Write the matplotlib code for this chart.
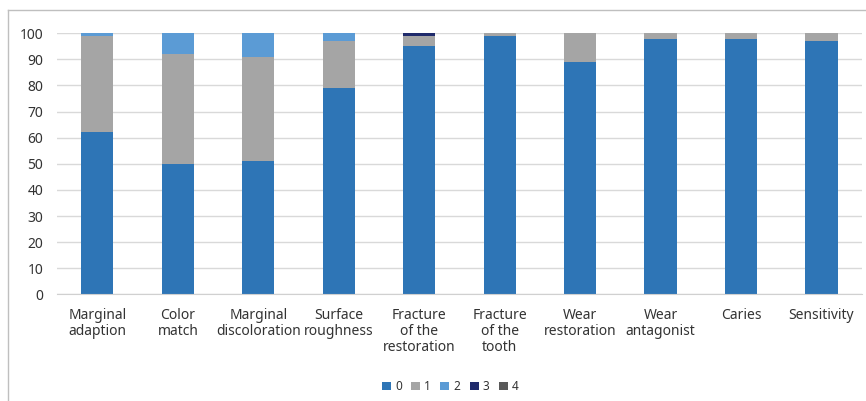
import matplotlib
matplotlib.use('Agg')
import matplotlib.pyplot as plt
from matplotlib.lines import Line2D
import numpy as np

plt.rcParams['font.family'] = ['Noto Sans', 'DejaVu Sans']

categories = ['Marginal\nadaption', 'Color\nmatch', 'Marginal\ndiscoloration',
              'Surface\nroughness', 'Fracture\nof the\nrestoration', 'Fracture\nof the\ntooth',
              'Wear\nrestoration', 'Wear\nantagonist', 'Caries', 'Sensitivity']

score_0 = [62, 50, 51, 79, 95, 99, 89, 98, 98, 97]
score_1 = [37, 42, 40, 18, 4, 1, 11, 2, 2, 3]
score_2 = [1, 8, 9, 3, 0, 0, 0, 0, 0, 0]
score_3 = [0, 0, 0, 0, 1, 0, 0, 0, 0, 0]
score_4 = [0, 0, 0, 0, 0, 0, 0, 0, 0, 0]

series = [('0', score_0, '#2E75B6'),
          ('1', score_1, '#A5A5A5'),
          ('2', score_2, '#5B9BD5'),
          ('3', score_3, '#1F2A6B'),
          ('4', score_4, '#595959')]

fig = plt.figure(figsize=(8.66, 4.01), dpi=100)
ax = fig.add_axes([0.066, 0.266, 0.929, 0.651])

x = np.arange(len(categories))
bottom = np.zeros(len(categories))
for label, vals, color in series:
    vals = np.array(vals, dtype=float)
    ax.bar(x, vals, 0.4, bottom=bottom, color=color, label=label, zorder=3)
    bottom += vals

ax.set_xlim(-0.5, len(categories) - 0.5)
ax.set_ylim(0, 100)
ax.set_yticks(np.arange(0, 101, 10))
ax.set_xticks(x)
ax.set_xticklabels(categories, fontsize=10, color='#333333', linespacing=1.1)
ax.tick_params(axis='y', labelsize=10, labelcolor='#333333', length=0, pad=10)
ax.tick_params(axis='x', length=0, pad=9.5)
ax.grid(axis='y', color='#D9D9D9', linewidth=1, zorder=0)
for s in ['top', 'right', 'left']:
    ax.spines[s].set_visible(False)
ax.spines['bottom'].set_color('#D0D0D0')
ax.spines['bottom'].set_zorder(4)

fig.legend(loc='center', bbox_to_anchor=(0.52, 0.036), ncol=5, frameon=False,
           fontsize=8.5, handlelength=0.75, handleheight=0.75, handletextpad=0.35,
           columnspacing=0.8, labelcolor='#333333')

# outer border
fig.add_artist(Line2D([8 / 866, 1], [1 - 10 / 401, 1 - 10 / 401], color='#BFBFBF', lw=1))
fig.add_artist(Line2D([8 / 866, 8 / 866], [0, 1 - 10 / 401], color='#BFBFBF', lw=1))

fig.savefig('out.png', dpi=100, facecolor='white')
